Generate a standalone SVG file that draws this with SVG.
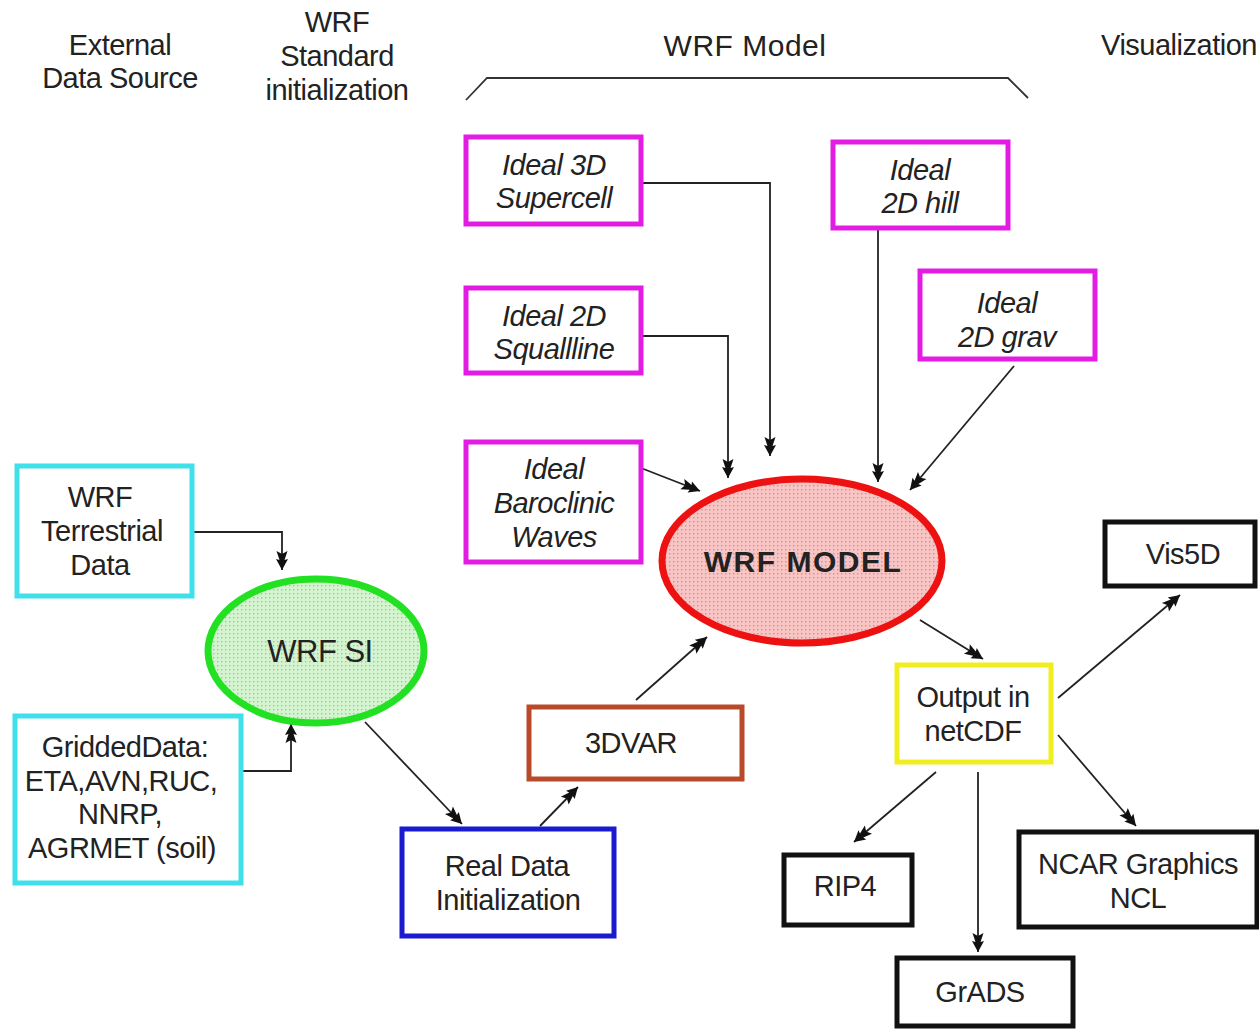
<svg xmlns="http://www.w3.org/2000/svg" width="1259" height="1029" viewBox="0 0 1259 1029">
<style>
  text { font-family: "Liberation Sans", Arial, sans-serif; font-size: 29px; fill: #222; text-anchor: middle; letter-spacing: -0.5px; }
  .it { font-style: italic; }
  .box { fill: #fff; stroke-width: 5; }
  .mag { stroke: #e21ce2; }
  .cyan { stroke: #3fe0ea; }
  .blk { stroke: #111; }
  .conn path, .conn line { fill: none; stroke: #222; stroke-width: 1.8; marker-end: url(#arr); }
</style>
<defs>
  <marker id="arr" markerUnits="userSpaceOnUse" markerWidth="22" markerHeight="16" refX="21" refY="8" orient="auto" viewBox="0 0 22 16">
    <path d="M21,8 L10,2 L11,5.5 L2,2.5 L5,8 L2,13.5 L11,10.5 L10,14 z" fill="#111"/>
  </marker>
  <pattern id="dotsR" width="4" height="4" patternUnits="userSpaceOnUse">
    <rect width="4" height="4" fill="#f8c4c4"/>
    <rect x="1" y="1" width="1.4" height="1.4" fill="#c89494"/>
  </pattern>
  <pattern id="dotsG" width="4" height="4" patternUnits="userSpaceOnUse">
    <rect width="4" height="4" fill="#d4f4d0"/>
    <rect x="1" y="1" width="1.4" height="1.4" fill="#a0c49c"/>
  </pattern>
</defs>
<rect width="1259" height="1029" fill="#fff"/>

<g id="headers">
  <text x="120" y="55">External</text>
  <text x="120" y="88">Data Source</text>
  <text x="337" y="32">WRF</text>
  <text x="337" y="66">Standard</text>
  <text x="337" y="100">initialization</text>
  <text x="745" y="56" style="font-size:30px;letter-spacing:0.5px">WRF Model</text>
  <text x="1179" y="55">Visualization</text>
  <path d="M466,100 L487,78 L1008,78 L1028,98" fill="none" stroke="#333" stroke-width="1.8"/>
</g>

<g class="conn" id="connectors">
  <path d="M641,183 L770,183 L770,456"/>
  <path d="M641,336 L728,336 L728,478"/>
  <line x1="641" y1="468" x2="700" y2="491"/>
  <line x1="878" y1="228" x2="878" y2="482"/>
  <line x1="1014" y1="366" x2="910" y2="490"/>
  <path d="M192,532 L282,532 L282,570"/>
  <path d="M241,771 L291,771 L291,724"/>
  <line x1="365" y1="722" x2="462" y2="824"/>
  <line x1="540" y1="826" x2="578" y2="787"/>
  <line x1="636" y1="700" x2="707" y2="637"/>
  <line x1="920" y1="620" x2="983" y2="659"/>
  <line x1="1058" y1="698" x2="1180" y2="595"/>
  <line x1="936" y1="772" x2="854" y2="842"/>
  <line x1="978" y1="772" x2="978" y2="952"/>
  <line x1="1058" y1="735" x2="1136" y2="826"/>
</g>

<g id="n-supercell">
  <rect class="box mag" x="466" y="137" width="175" height="87"/>
  <text class="it" x="554" y="175">Ideal 3D</text>
  <text class="it" x="554" y="208">Supercell</text>
</g>
<g id="n-squallline">
  <rect class="box mag" x="466" y="288" width="175" height="85"/>
  <text class="it" x="554" y="326">Ideal 2D</text>
  <text class="it" x="554" y="359">Squallline</text>
</g>
<g id="n-baroclinic">
  <rect class="box mag" x="466" y="442" width="175" height="120"/>
  <text class="it" x="554" y="479">Ideal</text>
  <text class="it" x="554" y="513">Baroclinic</text>
  <text class="it" x="554" y="547">Waves</text>
</g>
<g id="n-hill">
  <rect class="box mag" x="833" y="142" width="175" height="86"/>
  <text class="it" x="920" y="180">Ideal</text>
  <text class="it" x="920" y="213">2D hill</text>
</g>
<g id="n-grav">
  <rect class="box mag" x="920" y="271" width="175" height="88"/>
  <text class="it" x="1007" y="313">Ideal</text>
  <text class="it" x="1007" y="347">2D grav</text>
</g>
<g id="n-terrestrial">
  <rect class="box cyan" x="17" y="466" width="175" height="130"/>
  <text x="100" y="507">WRF</text>
  <text x="102" y="541">Terrestrial</text>
  <text x="100" y="575">Data</text>
</g>
<g id="n-gridded">
  <rect class="box cyan" x="15" y="716" width="226" height="167"/>
  <text x="125" y="757">GriddedData:</text>
  <text x="121" y="791">ETA,AVN,RUC,</text>
  <text x="120" y="824">NNRP,</text>
  <text x="122" y="858">AGRMET (soil)</text>
</g>
<g id="n-wrfsi">
  <ellipse cx="316" cy="651" rx="108" ry="72" fill="url(#dotsG)" stroke="#22e022" stroke-width="7"/>
  <text x="320" y="662" style="font-size:31px">WRF SI</text>
</g>
<g id="n-wrfmodel">
  <ellipse cx="802" cy="561" rx="140" ry="82" fill="url(#dotsR)" stroke="#ee1111" stroke-width="7"/>
  <text x="803" y="572" style="font-weight:bold;font-size:30px;letter-spacing:1.5px">WRF MODEL</text>
</g>
<g id="n-3dvar">
  <rect class="box" x="529" y="707" width="213" height="72" stroke="#b84a2a"/>
  <text x="631" y="753">3DVAR</text>
</g>
<g id="n-realdata">
  <rect class="box" x="402" y="829" width="212" height="107" stroke="#1a1ad0"/>
  <text x="507" y="876">Real Data</text>
  <text x="508" y="910">Initialization</text>
</g>
<g id="n-output">
  <rect class="box" x="897" y="665" width="154" height="97" stroke="#f0ee20"/>
  <text x="973" y="707">Output in</text>
  <text x="973" y="741">netCDF</text>
</g>
<g id="n-vis5d">
  <rect class="box blk" x="1105" y="522" width="150" height="64"/>
  <text x="1183" y="564">Vis5D</text>
</g>
<g id="n-rip4">
  <rect class="box blk" x="784" y="855" width="128" height="70"/>
  <text x="845" y="896">RIP4</text>
</g>
<g id="n-ncar">
  <rect class="box blk" x="1019" y="832" width="238" height="95"/>
  <text x="1138" y="874">NCAR Graphics</text>
  <text x="1138" y="908">NCL</text>
</g>
<g id="n-grads">
  <rect class="box blk" x="897" y="958" width="176" height="68"/>
  <text x="980" y="1002">GrADS</text>
</g>
</svg>
